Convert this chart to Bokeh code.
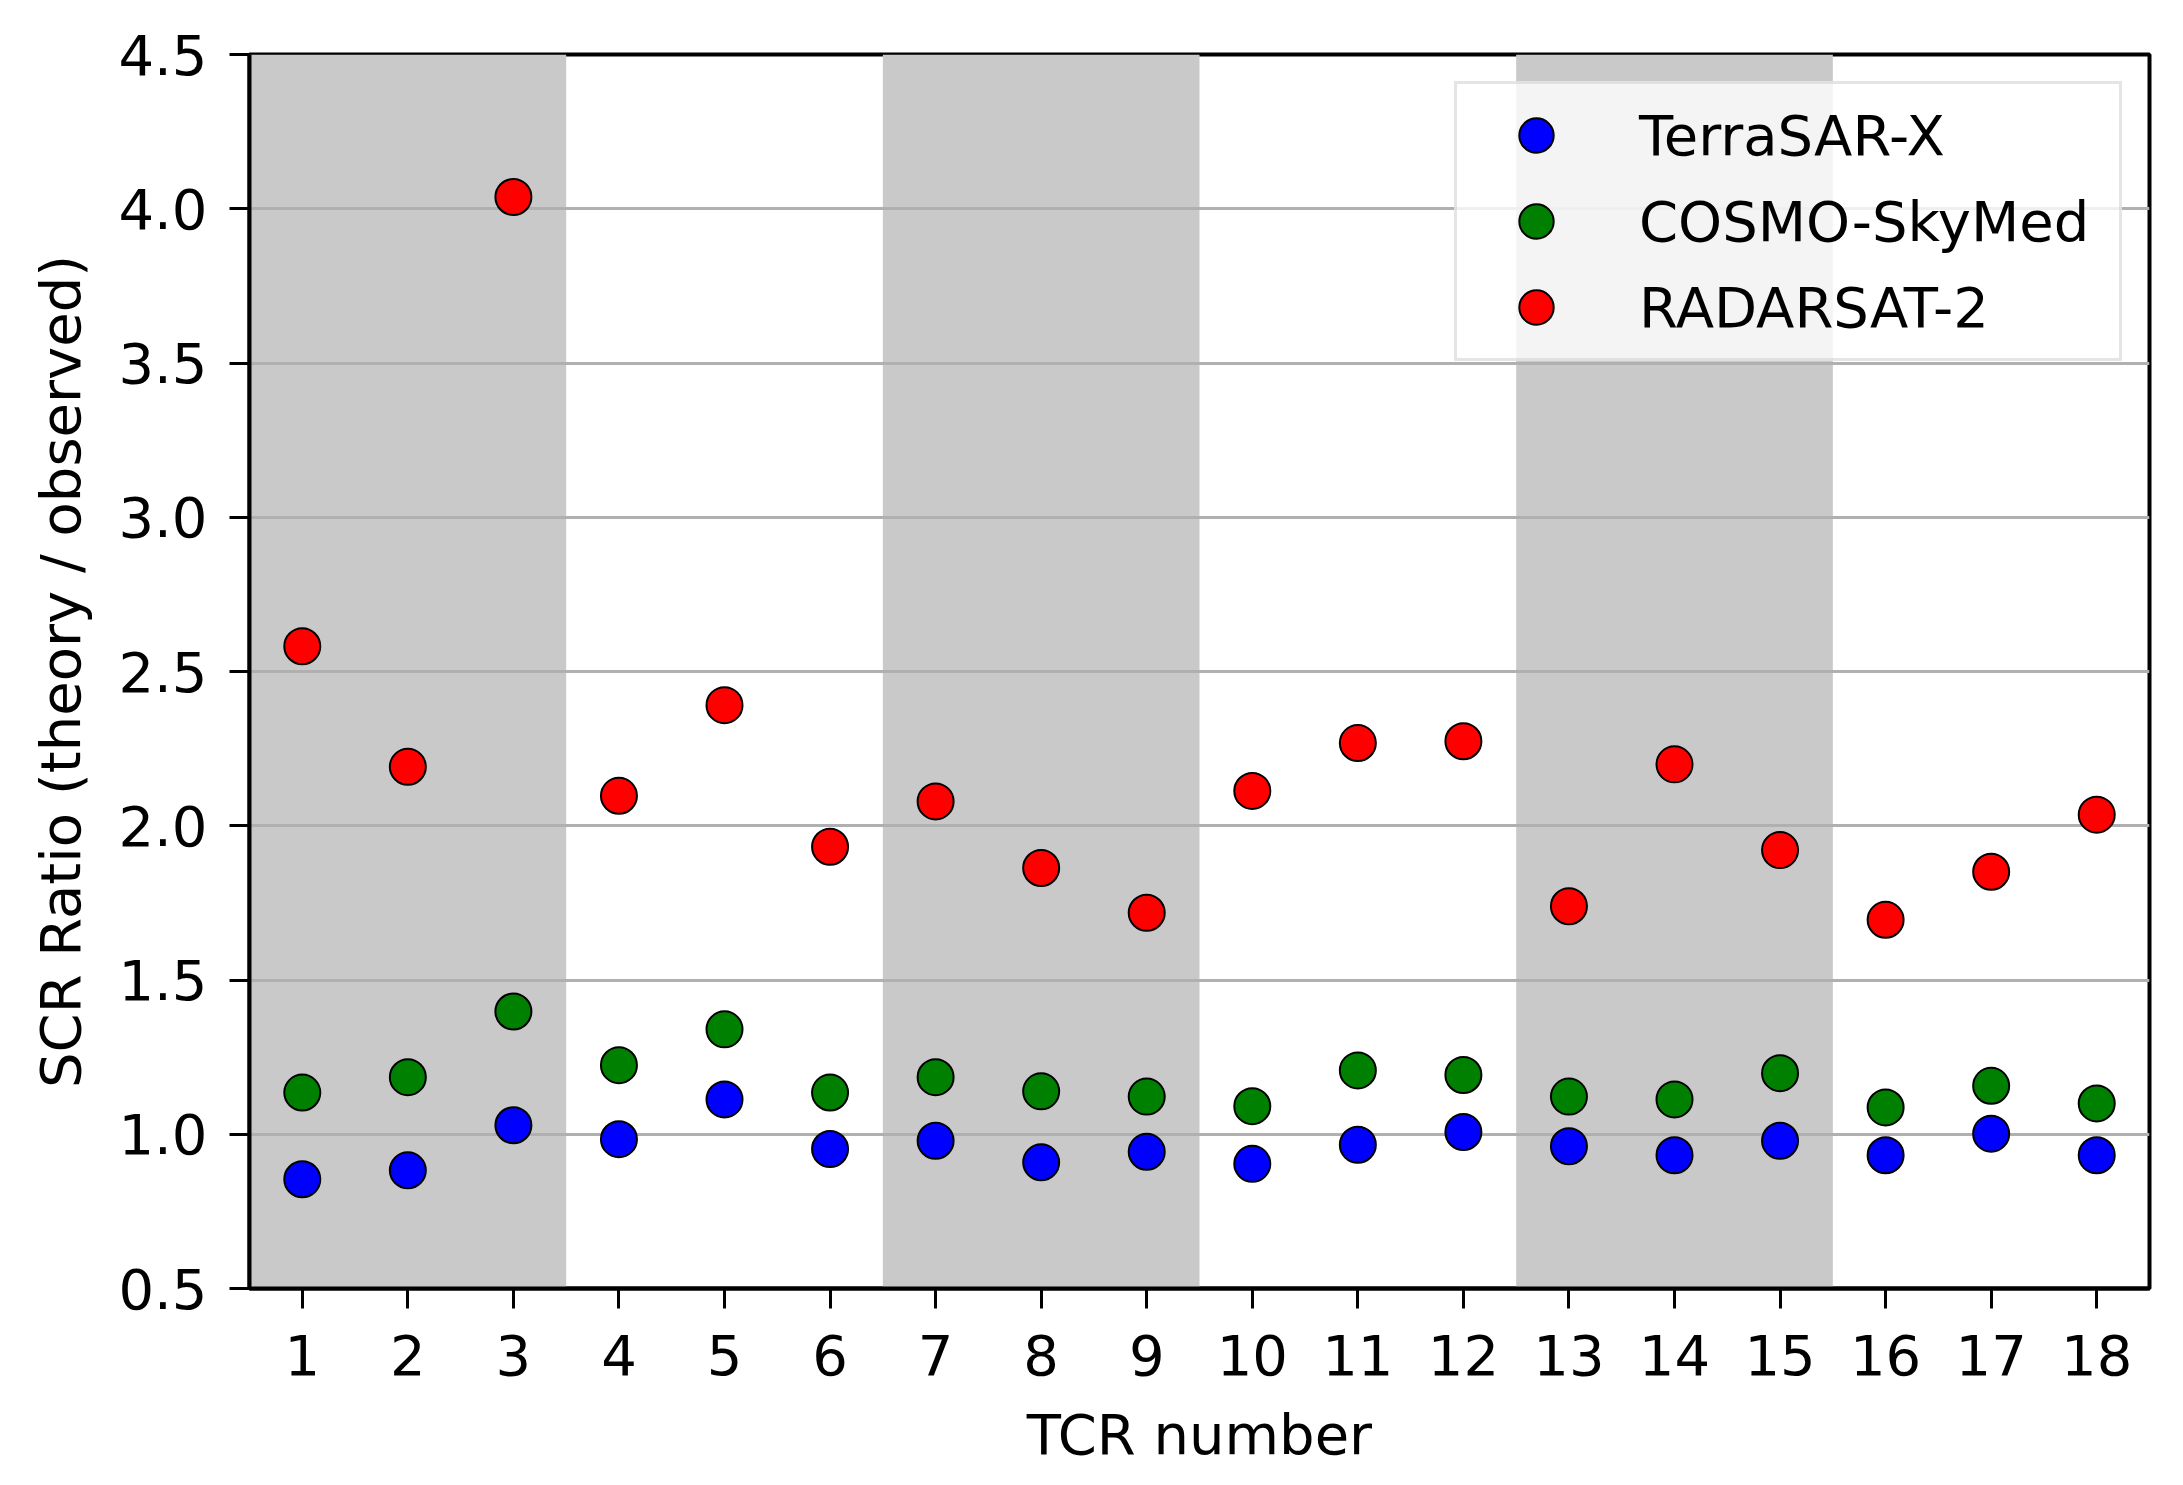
from bokeh.plotting import figure
from bokeh.models import FixedTicker, PrintfTickFormatter, BoxAnnotation
from bokeh.embed import file_html
from bokeh.resources import INLINE

# ---- data ----
tcr_numbers = list(range(1, 19))
terrasar_x = [0.854, 0.883, 1.029, 0.984, 1.113, 0.952, 0.979, 0.909, 0.943,
              0.904, 0.966, 1.007, 0.961, 0.932, 0.979, 0.932, 1.002, 0.932]
cosmo_skymed = [1.135, 1.185, 1.398, 1.224, 1.340, 1.135, 1.185, 1.139, 1.122,
                1.091, 1.207, 1.192, 1.122, 1.113, 1.198, 1.087, 1.157, 1.100]
radarsat_2 = [2.582, 2.191, 4.038, 2.097, 2.391, 1.932, 2.079, 1.863, 1.718,
              2.113, 2.268, 2.274, 1.739, 2.199, 1.921, 1.695, 1.851, 2.036]
shaded_groups = [[1, 2, 3], [7, 8, 9], [13, 14, 15]]
y_ticks = [0.5, 1.0, 1.5, 2.0, 2.5, 3.0, 3.5, 4.0, 4.5]

series = [
    ("TerraSAR-X", terrasar_x, "#0000ff"),
    ("COSMO-SkyMed", cosmo_skymed, "#008000"),
    ("RADARSAT-2", radarsat_2, "#ff0000"),
]

FONT = "DejaVu Sans"
FS = "56px"

p = figure(frame_width=1900, frame_height=1234,
           x_range=(0.5, 18.5), y_range=(y_ticks[0], y_ticks[-1]),
           output_backend="svg", toolbar_location=None,
           min_border_left=249, min_border_right=18,
           min_border_top=54, min_border_bottom=181)

p.background_fill_color = "white"
p.border_fill_color = "white"
p.outline_line_color = "black"
p.outline_line_width = 4

for g in shaded_groups:
    p.add_layout(BoxAnnotation(left=min(g) - 0.5, right=max(g) + 0.5,
                               fill_color="#c9c9c9", fill_alpha=1.0,
                               line_color=None, level="image"))

for name, vals, col in series:
    p.scatter(tcr_numbers, vals, size=36, fill_color=col, line_color="black",
              line_width=2, legend_label=name)

# grid
p.xgrid.visible = False
p.ygrid.grid_line_color = "#b0b0b0"
p.ygrid.grid_line_width = 3
p.ygrid.ticker = FixedTicker(ticks=y_ticks)

# axes
p.xaxis.ticker = FixedTicker(ticks=tcr_numbers)
p.yaxis.ticker = FixedTicker(ticks=y_ticks)
p.yaxis.formatter = PrintfTickFormatter(format="%.1f")
p.xaxis.axis_label = "TCR number"
p.yaxis.axis_label = "SCR Ratio (theory / observed)"
for ax in (p.xaxis, p.yaxis):
    ax.axis_line_color = "black"
    ax.axis_line_width = 4
    ax.major_tick_in = 0
    ax.major_tick_out = 20
    ax.major_tick_line_width = 3
    ax.minor_tick_line_color = None
    ax.major_label_text_font = FONT
    ax.major_label_text_font_size = FS
    ax.major_label_text_color = "black"
    ax.axis_label_text_font = FONT
    ax.axis_label_text_font_size = FS
    ax.axis_label_text_font_style = "normal"
    ax.axis_label_text_color = "black"
p.xaxis.major_label_standoff = 26
p.xaxis.axis_label_standoff = 24
p.yaxis.major_label_standoff = 22
p.yaxis.axis_label_standoff = 22

# legend
lg = p.legend[0]
lg.location = "top_right"
lg.margin = 27
lg.padding = 8
lg.spacing = 0
lg.glyph_width = 142
lg.glyph_height = 86
lg.label_height = 86
lg.label_width = 472
lg.label_standoff = 32
lg.label_text_font = FONT
lg.label_text_font_size = FS
lg.label_text_color = "black"
lg.background_fill_color = "white"
lg.background_fill_alpha = 0.8
lg.border_line_color = "#cccccc"
lg.border_line_width = 3

open("out.html", "w").write(file_html(p, INLINE))
